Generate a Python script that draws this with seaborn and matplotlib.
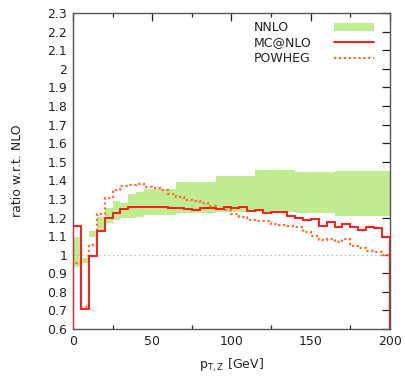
import numpy as np
import matplotlib
matplotlib.use("Agg")
import matplotlib.pyplot as plt
import seaborn as sns
from matplotlib.ticker import MultipleLocator, FuncFormatter
from matplotlib.patches import Rectangle

# ---- data ----
fine_edges = list(range(0, 205, 5))
mcatnlo = [1.155, 0.706, 0.994, 1.128, 1.198, 1.227, 1.247, 1.256, 1.258, 1.255,
           1.255, 1.254, 1.252, 1.252, 1.245, 1.243, 1.249, 1.249, 1.245, 1.258,
           1.249, 1.254, 1.234, 1.240, 1.227, 1.231, 1.231, 1.209, 1.195, 1.186,
           1.190, 1.154, 1.177, 1.150, 1.163, 1.150, 1.132, 1.147, 1.141, 1.096]
powheg = [0.953, 0.720, 1.052, 1.217, 1.303, 1.347, 1.369, 1.374, 1.381, 1.365,
          1.360, 1.347, 1.328, 1.312, 1.295, 1.290, 1.276, 1.260, 1.245, 1.240,
          1.218, 1.204, 1.188, 1.180, 1.180, 1.165, 1.158, 1.152, 1.148, 1.123,
          1.100, 1.078, 1.087, 1.069, 1.087, 1.046, 1.034, 1.021, 1.013, 0.998]
nnlo_edges = [0, 5, 10, 15, 20, 25, 30, 35, 40, 45, 65, 90, 115, 140, 165, 200]
nnlo_low = [0.935, 0.953, 1.096, 1.125, 1.171, 1.186, 1.195, 1.195, 1.204, 1.213,
            1.222, 1.230, 1.231, 1.222, 1.209]
nnlo_high = [1.093, 0.980, 1.127, 1.204, 1.249, 1.290, 1.280, 1.324, 1.338, 1.356,
             1.392, 1.424, 1.455, 1.446, 1.450]
series_names = ["NNLO", "MC@NLO", "POWHEG"]
yticks = [0.6, 0.7, 0.8, 0.9, 1.0, 1.1, 1.2, 1.3, 1.4, 1.5, 1.6, 1.7, 1.8, 1.9,
          2.0, 2.1, 2.2, 2.3]
xticks = [0, 50, 100, 150, 200]

# ---- style ----
sns.set_style("white")
plt.rcParams['font.family'] = ['DejaVu Sans']
plt.rcParams['font.size'] = 9

c_green = "#bfeb93"
c_red = "#ff1a1a"
c_orange = "#ff6a2a"
txt_c = "#222222"

fig = plt.figure(figsize=(4.05, 3.76), dpi=100)
ax = fig.add_axes([0.180, 0.125, 0.783, 0.840])

# NNLO band
lo = np.append(nnlo_low, nnlo_low[-1])
hi = np.append(nnlo_high, nnlo_high[-1])
ax.fill_between(nnlo_edges, lo, hi, step="post", color=c_green, lw=0, zorder=1)

# reference line at 1
ax.axhline(1.0, color="#b0b0b0", lw=0.9, ls=(0, (1, 2.5)), zorder=1.5)

# MC@NLO and POWHEG step histograms
ax.stairs(mcatnlo, fine_edges, baseline=0.6, color=c_red, lw=1.4, zorder=3)
ax.stairs(powheg, fine_edges, baseline=0.6, color=c_orange, lw=1.6,
          ls=(0, (1, 1.2)), zorder=2.5)

ax.set_xlim(0, 200)
ax.set_ylim(0.6, 2.3)
ax.set_xticks(xticks)
ax.xaxis.set_minor_locator(MultipleLocator(25))
ax.set_yticks(yticks)
ax.yaxis.set_major_formatter(FuncFormatter(lambda v, p: "%g" % round(v, 1)))

ax.tick_params(axis="both", which="major", direction="in", length=6, width=0.9,
               top=True, right=True, labelsize=9, colors=txt_c, pad=4)
ax.tick_params(axis="x", which="minor", direction="in", length=3, width=0.9,
               top=True, bottom=True, colors=txt_c)
for s in ax.spines.values():
    s.set_color("#555555")
    s.set_linewidth(1.0)
    s.set_visible(True)

ax.set_xlabel(r"p$_{\mathrm{T,Z}}$ [GeV]", fontsize=9, labelpad=7, color=txt_c)
ax.set_ylabel("ratio w.r.t. NLO", fontsize=9, labelpad=17, color=txt_c)

# gnuplot-style key: left-aligned labels, sample to the right
tx, hx0, hx1 = 0.571, 0.823, 0.950
rows = [0.956, 0.908, 0.858]
tr = ax.transAxes
ax.text(tx, rows[0], series_names[0], transform=tr, ha="left", va="center",
        fontsize=9, color=txt_c)
ax.add_patch(Rectangle((hx0, rows[0] - 0.013), hx1 - hx0, 0.026, transform=tr,
                       facecolor=c_green, edgecolor="none", clip_on=False))
ax.text(tx, rows[1], series_names[1], transform=tr, ha="left", va="center",
        fontsize=9, color=txt_c)
ax.plot([hx0, hx1], [rows[1], rows[1]], transform=tr, color=c_red, lw=1.4)
ax.text(tx, rows[2], series_names[2], transform=tr, ha="left", va="center",
        fontsize=9, color=txt_c)
ax.plot([hx0, hx1], [rows[2], rows[2]], transform=tr, color=c_orange, lw=1.6,
        ls=(0, (1, 1.2)))

fig.savefig("out.png", dpi=100)
